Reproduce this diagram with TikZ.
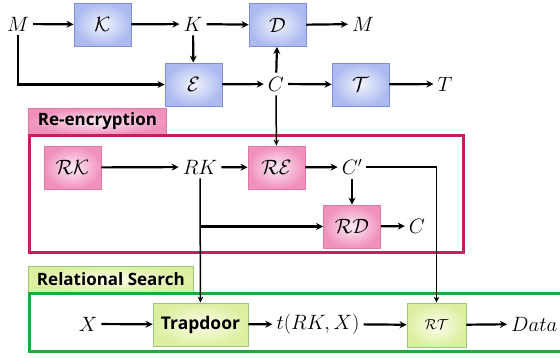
\documentclass[tikz,border=0pt]{standalone}
\usepackage{fontspec}
\newfontfamily\labfont{Open Sans}
\usetikzlibrary{arrows.meta,calc}

\definecolor{blueedge}{RGB}{125,142,215}
\definecolor{blueout}{RGB}{172,186,240}
\definecolor{bluein}{RGB}{242,244,254}
\definecolor{pinkedge}{RGB}{225,120,165}
\definecolor{pinkout}{RGB}{240,145,188}
\definecolor{pinkin}{RGB}{254,236,244}
\definecolor{greenedge}{RGB}{155,198,125}
\definecolor{greenout}{RGB}{220,239,160}
\definecolor{greenin}{RGB}{253,254,236}
\definecolor{reframe}{RGB}{200,30,95}
\definecolor{rsframe}{RGB}{30,170,60}

\begin{document}
\begin{tikzpicture}[x=1pt,y=-1pt,
  every node/.style={font=\fontsize{20}{24}\selectfont},
  txt/.style={inner sep=4pt},
  blk/.style={draw=blueedge,line width=0.8pt,inner color=bluein,outer color=blueout,
    minimum width=57pt,minimum height=43pt,inner sep=0pt},
  pblk/.style={blk,draw=pinkedge,inner color=pinkin,outer color=pinkout},
  gblk/.style={blk,draw=greenedge,inner color=greenin,outer color=greenout},
  arr/.style={-{Stealth[length=7pt,width=7pt]},line width=2.2pt},
  thinarr/.style={-{Stealth[length=6pt,width=5.5pt]},line width=1.5pt},
  lab/.style={inner sep=0pt,anchor=north west,
    font=\labfont\bfseries\fontsize{17}{20}\selectfont},
  frame/.style={line width=3pt}
]
\useasboundingbox (0,0) rectangle (560,357);
\clip (0,0) rectangle (560,357);

% encryption scheme
\node[txt] (M1) at (18,24) {$M$};
\node[blk] (Kg) at (102.5,24.5) {$\mathcal{K}$};
\node[txt] (K) at (193,24) {$K$};
\node[blk] (Dec) at (277.5,25) {$\mathcal{D}$};
\node[txt] (M2) at (363,24) {$M$};
\node[blk] (Enc) at (193.5,84.5) {$\mathcal{E}$};
\node[txt] (C) at (276,84) {$C$};
\node[blk] (Tg) at (360.5,84.5) {$\mathcal{T}$};
\node[txt] (T) at (445,84) {$T$};

\draw[arr] (M1) -- (Kg);
\draw[arr] (Kg) -- (K);
\draw[arr] (K) -- (Dec);
\draw[arr] (Dec) -- (M2);
\draw[arr] (K) -- (Enc);
\draw[arr] (M1.south) |- (Enc.west);
\draw[arr] (Enc) -- (C);
\draw[arr] (C) -- (Dec);
\draw[arr] (C) -- (Tg);
\draw[arr] (Tg) -- (T);

% re-encryption part
\node[lab,pblk,minimum width=138pt,minimum height=26pt,anchor=north west] (relab) at (28,108) {Re-encryption};
\draw[reframe,frame] (29.5,135.5) rectangle (463.5,252.5);

\node[pblk] (RKg) at (72.5,167.5) {$\mathcal{RK}$};
\node[txt] (RK) at (200,167) {$RK$};
\node[pblk] (REn) at (276.5,167.5) {$\mathcal{RE}$};
\node[txt] (Cp) at (352,167) {$C'$};
\node[pblk] (RDe) at (352,226.5) {$\mathcal{RD}$};
\node[txt] (C2) at (417,226) {$C$};

\draw[arr] (RKg) -- (RK);
\draw[arr] (RK) -- (REn);
\draw[thinarr] (C) -- (REn);
\draw[arr] (REn) -- (Cp);
\draw[arr] (Cp) -- (RDe);
\draw[arr] (RDe) -- (C2);
\coordinate (br) at (RK |- RDe);
\draw[arr] (br) -- (RDe);

% relational search part
\node[lab,gblk,minimum width=165pt,minimum height=26pt,anchor=north west] (rslab) at (28,266) {Relational Search};
\draw[rsframe,frame] (29.5,293.5) rectangle (600,351.5);

\node[txt] (X) at (88,324) {$X$};
\node[gblk,minimum width=95pt,font=\labfont\bfseries\fontsize{17.5}{20}\selectfont] (Trap) at (200.5,324.5) {Trapdoor};
\node[txt] (tRK) at (318,324) {$t(RK,X)$};
\node[gblk,minimum width=59pt,minimum height=44pt,font=\fontsize{14}{17}\selectfont] (RTe) at (436.5,325) {$\mathcal{RT}$};
\node[txt,anchor=west] (Data) at (507,324) {$Data$};

\draw[thinarr] (RK) -- (Trap);
\draw[thinarr] (Cp.east) -| (RTe.north);
\draw[arr] (X) -- (Trap);
\draw[arr] (Trap) -- (tRK);
\draw[arr] (tRK) -- (RTe);
\draw[arr] (RTe) -- (Data);
\end{tikzpicture}
\end{document}
